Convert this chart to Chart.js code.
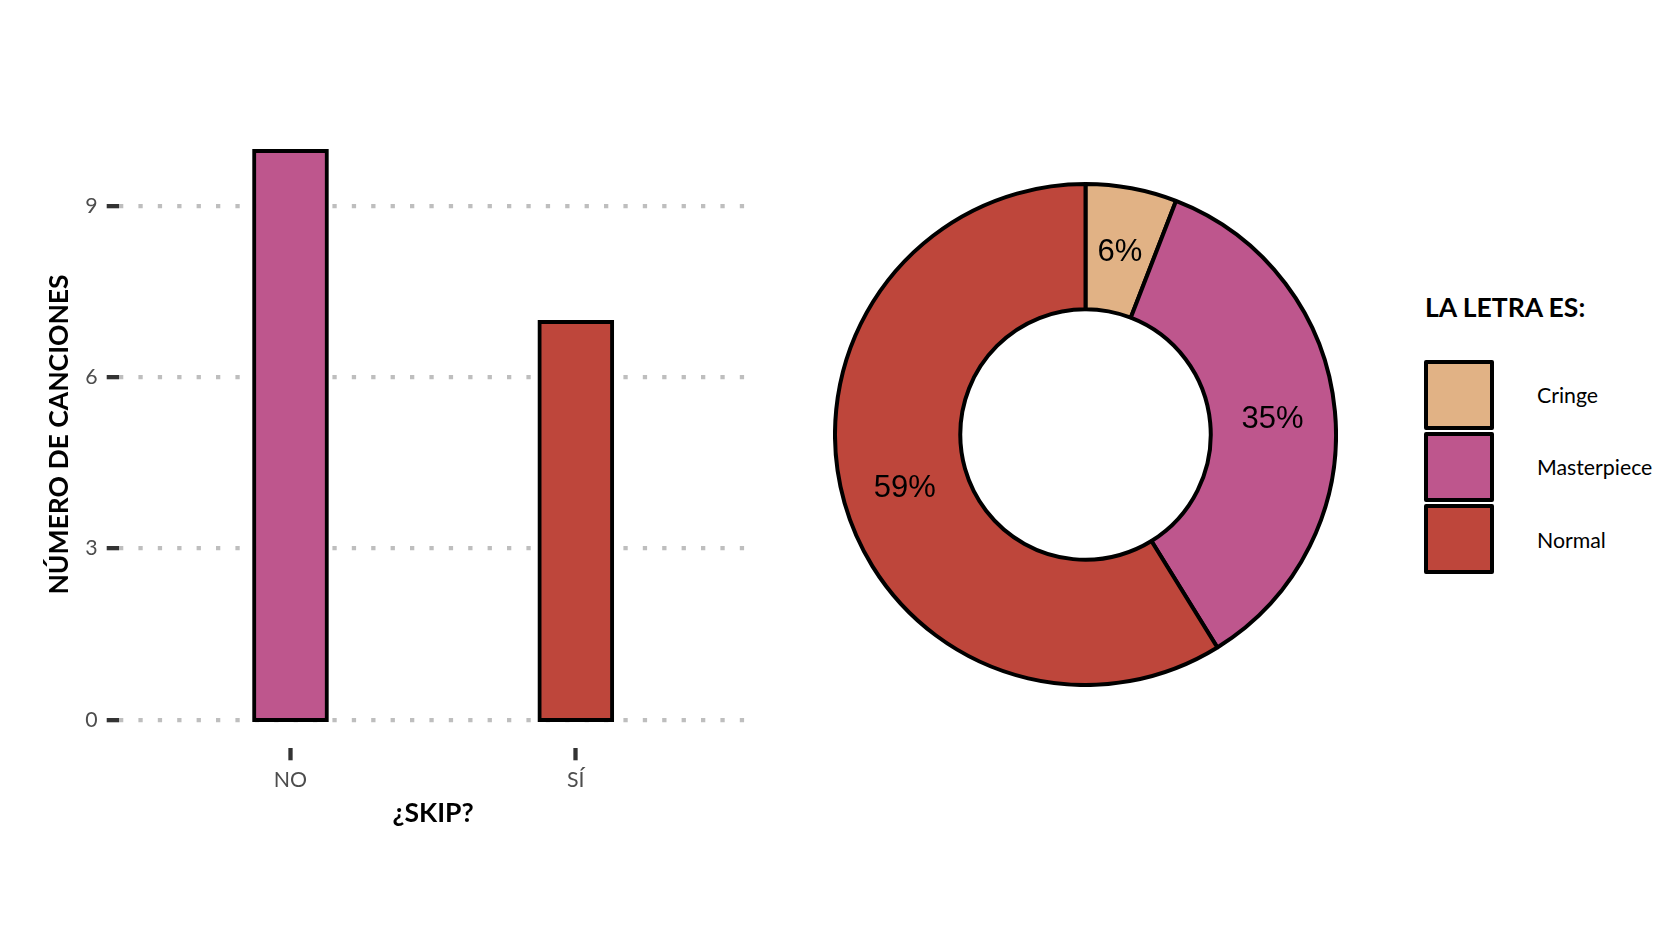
<!DOCTYPE html>
<html>
<head>
<meta charset="utf-8">
<script src="https://cdn.jsdelivr.net/npm/chart.js@4.4.1/dist/chart.umd.min.js"></script>
<style>
	body { margin: 0; background: #fff; }
	#wrap { position: relative; width: 1677px; height: 948px; overflow: hidden; font-family: Lato, sans-serif; }
	#bars { position: absolute; left: 0; top: 0; }
	#donut { position: absolute; left: 833px; top: 182px; }
	.leg-title { position: absolute; left: 1425px; top: 290.5px; font-weight: bold; font-size: 26.5px; line-height: 32px; color: #000; white-space: nowrap; }
	.leg-key { position: absolute; left: 1424px; width: 70px; height: 70px; box-sizing: border-box; border: 4px solid #000; border-radius: 2px; }
	.leg-label { position: absolute; left: 1537px; font-size: 21.3px; line-height: 24px; color: #000; white-space: nowrap; }
</style>
</head>
<body>
<div id="wrap">
	<canvas id="bars" width="800" height="948"></canvas>
	<canvas id="donut" width="505" height="505"></canvas>
	<div id="legend"></div>
</div>
<script>
// left panel: songs by skip
const skipCategories = ['NO', 'SÍ'];
const songCounts = [10, 7];
const yTickValues = [0, 3, 6, 9];

// right panel: lyrics type
const letraCategories = ['Cringe', 'Masterpiece', 'Normal'];
const letraCounts = [1, 6, 10];
const legendTitle = 'LA LETRA ES:';

const letraColors = ['#e1b285', '#be568d', '#be463b'];
const barColors = [letraColors[1], letraColors[2]];

Chart.defaults.font.family = 'Lato';
Chart.defaults.animation = false;

new Chart(document.getElementById('bars'), {
	type: 'bar',
	data: {
		datasets: [{
			data: skipCategories.map((c, i) => ({ x: i + 1, y: songCounts[i] })),
			backgroundColor: barColors,
			borderColor: '#000',
			borderWidth: 4,
			borderSkipped: false,
			barThickness: 76,
			base: -0.035,	// lets the bottom border sit centred on the zero line
		}]
	},
	options: {
		responsive: false,
		layout: { padding: { left: 43.5, right: 53, top: 120.7, bottom: 119 } },
		plugins: { legend: { display: false }, tooltip: { enabled: false } },
		scales: {
			x: {
				type: 'linear',
				min: 0.4,
				max: 2.6,
				offset: false,
				afterBuildTicks: (s) => { s.ticks = skipCategories.map((c, i) => ({ value: i + 1 })); },
				afterFit: (s) => { s.height = 80.7; },
				ticks: {
					callback: (v) => skipCategories[v - 1],
					color: '#4d4d4d',
					font: { size: 21.3 },
					padding: 7,
					maxRotation: 0,
					autoSkip: false,
				},
				grid: { offset: false, drawOnChartArea: false, drawTicks: true, tickLength: 12, tickWidth: 4.3, tickColor: '#333' },
				border: { display: false },
				title: { display: true, text: '¿SKIP?', color: '#000', font: { size: 26.5, weight: 'bold' }, padding: 0 },
			},
			y: {
				min: -0.5,
				max: 10.5,
				afterBuildTicks: (s) => { s.ticks = yTickValues.map((v) => ({ value: v })); },
				afterFit: (s) => { s.width = 119.3 - 43.5; },
				ticks: { color: '#4d4d4d', font: { size: 21.3 }, padding: 9 },
				grid: { color: '#bebebe', lineWidth: 4.3, tickLength: 12.6, tickWidth: 4.3, tickColor: '#333', tickBorderDash: [] },
				border: { display: false, dash: [4.3, 15.1], dashOffset: 0 },
				title: { display: true, text: 'NÚMERO DE CANCIONES', color: '#000', font: { size: 26.5, weight: 'bold' }, padding: 0 },
			}
		}
	}
});

// percent labels in the middle of each ring slice
const sliceLabels = {
	id: 'sliceLabels',
	afterDatasetsDraw(chart) {
		const { ctx } = chart;
		const total = letraCounts.reduce((a, b) => a + b, 0);
		ctx.save();
		ctx.font = '31px "Liberation Sans", Arial, sans-serif';
		ctx.fillStyle = '#000';
		ctx.textAlign = 'center';
		ctx.textBaseline = 'middle';
		chart.getDatasetMeta(0).data.forEach((arc, i) => {
			const p = arc.getCenterPoint();
			ctx.fillText(Math.round(letraCounts[i] / total * 100) + '%', p.x, p.y + 2.5);
		});
		ctx.restore();
	}
};

new Chart(document.getElementById('donut'), {
	type: 'doughnut',
	data: {
		labels: letraCategories,
		datasets: [{
			data: letraCounts,
			backgroundColor: letraColors,
			borderColor: '#000',
			borderWidth: 4,
			hoverBorderWidth: 4,
			hoverOffset: 0,
		}]
	},
	options: {
		responsive: false,
		cutout: '50%',
		layout: { padding: 0 },
		plugins: { legend: { display: false }, tooltip: { enabled: false } },
	},
	plugins: [sliceLabels]
});

// legend
const legend = document.getElementById('legend');
let html = `<div class="leg-title">${legendTitle}</div>`;
letraCategories.forEach((name, i) => {
	const top = 360 + i * 72.2;
	html += `<div class="leg-key" style="top:${top}px;background:${letraColors[i]}"></div>`;
	html += `<div class="leg-label" style="top:${top + 23.1}px">${name}</div>`;
});
legend.innerHTML = html;
</script>
</body>
</html>
